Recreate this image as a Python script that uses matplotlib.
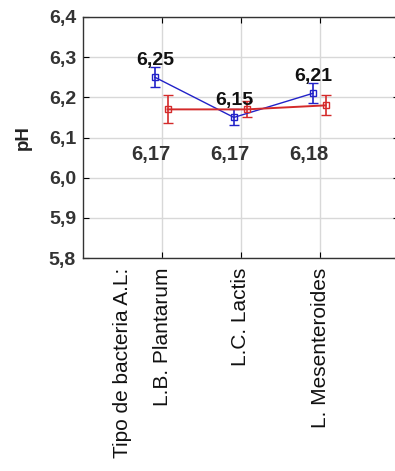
import matplotlib
matplotlib.use("Agg")
import matplotlib.pyplot as plt
import numpy as np

plt.rcParams['font.family'] = ['Liberation Sans', 'DejaVu Sans']

categories = ["L.B. Plantarum", "L.C. Lactis", "L. Mesenteroides"]
blue_vals = [6.25, 6.15, 6.21]
blue_err = [0.025, 0.02, 0.025]
red_vals = [6.17, 6.17, 6.18]
red_err = [0.035, 0.02, 0.025]
blue_labels = ["6,25", "6,15", "6,21"]
red_labels = ["6,17", "6,17", "6,18"]
yticks = [5.8, 5.9, 6.0, 6.1, 6.2, 6.3, 6.4]
ytick_labels = ["5,8", "5,9", "6,0", "6,1", "6,2", "6,3", "6,4"]
factor_label = "Tipo de bacteria A.L:"

fig = plt.figure(figsize=(3.95, 4.71), dpi=100)
W, H = 395, 471
left, right, top, bottom = 83, 399, 17, 258
ax = fig.add_axes([left / W, 1 - bottom / H, (right - left) / W, (bottom - top) / H])

x = np.arange(1, len(categories) + 1)
boff, roff = -0.09, 0.07
ax.errorbar(x + boff, blue_vals, yerr=blue_err, color='#2222c8', lw=1.0,
            marker='s', ms=4, mfc='none', mec='#2222c8', capsize=3.5, elinewidth=1.2, zorder=3)
ax.errorbar(x + roff, red_vals, yerr=red_err, color='#d42a2a', lw=1.4,
            marker='s', ms=4, mfc='none', mec='#d42a2a', capsize=3.5, elinewidth=1.2, zorder=3)

for xi, v, t in zip(x, blue_vals, blue_labels):
    ax.text(xi - 0.09, v + 0.021, t, ha='center', va='bottom', fontsize=14,
            fontweight='bold', color='#111111', zorder=4)
for xi, v, t in zip(x, red_vals, red_labels):
    ax.text(xi - 0.14, 6.034, t, ha='center', va='bottom', fontsize=14.5,
            fontweight='bold', color='#333333', zorder=4)

ax.set_xlim(0, 4)
ax.set_ylim(5.8, 6.4)
ax.set_yticks(yticks)
ax.set_yticklabels(ytick_labels, fontsize=14, fontweight='bold', color='#333333')
ax.set_xticks(x)
ax.set_xticklabels(categories, rotation=90, fontsize=15, va='top', ha='center', color='#111111')
ax.tick_params(axis='x', direction='in', top=True, bottom=True, length=4, pad=7)
ax.tick_params(axis='y', direction='in', right=True, left=True, length=4, pad=5)
ax.grid(True, color='#d8d8d8', lw=1.0, zorder=0)
ax.set_axisbelow(True)
ax.set_ylabel("pH", fontsize=13.5, fontweight='bold', labelpad=12, color='#222222')
for s in ax.spines.values():
    s.set_color('#333333')
    s.set_linewidth(1.0)

ax.text(0.5, -0.04, factor_label, transform=ax.get_xaxis_transform(), rotation=90,
        ha='center', va='top', fontsize=15, color='#111111')

fig.savefig("out.png", dpi=100)
